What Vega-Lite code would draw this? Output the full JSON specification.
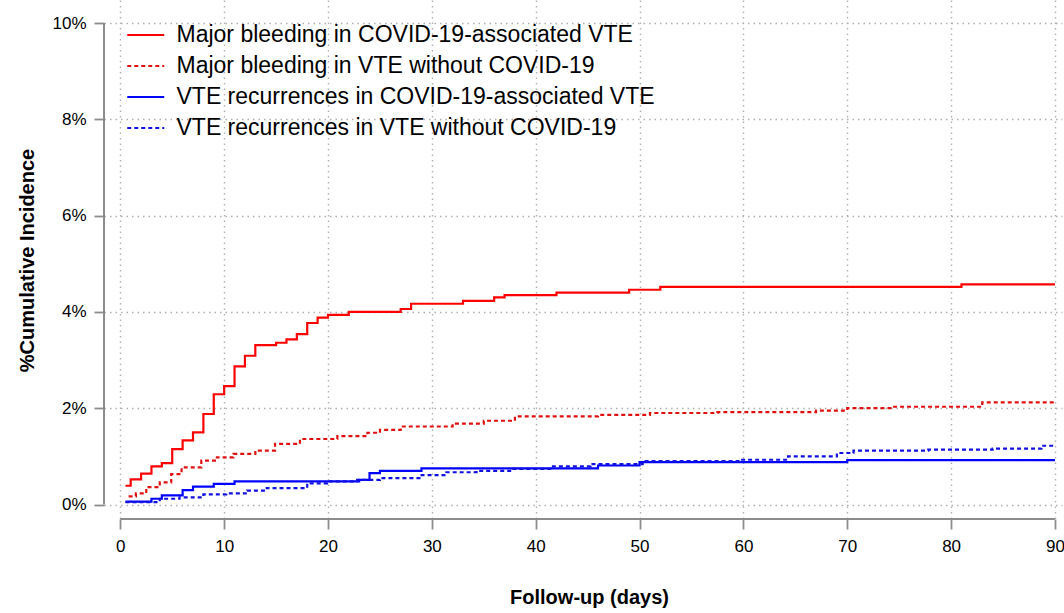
{
  "$schema": "https://vega.github.io/schema/vega-lite/v6.json",
  "autosize": {"type": "none"},
  "padding": {"left": 104, "top": 0, "right": 2, "bottom": 94},
  "width": 958,
  "height": 519,
  "background": "white",
  "config": {
    "font": "Liberation Sans",
    "view": {"stroke": null},
    "axis": {
      "domain": false,
      "grid": true,
      "gridColor": "#b0b0b0",
      "gridDash": [1.5, 4],
      "gridWidth": 1.4,
      "tickColor": "#8c8c8c",
      "tickWidth": 1.8,
      "tickSize": 10,
      "labelColor": "#000000",
      "labelFontSize": 17,
      "labelFont": "Liberation Sans",
      "titleFont": "Liberation Sans",
      "titleFontSize": 20,
      "titleFontWeight": "bold",
      "titleColor": "#000000"
    }
  },
  "datasets": {
    "curves": [
      {"series": "Major bleeding in COVID-19-associated VTE", "day": 0.5, "pct": 0.39},
      {"series": "Major bleeding in COVID-19-associated VTE", "day": 1, "pct": 0.52},
      {"series": "Major bleeding in COVID-19-associated VTE", "day": 2, "pct": 0.64},
      {"series": "Major bleeding in COVID-19-associated VTE", "day": 3, "pct": 0.79},
      {"series": "Major bleeding in COVID-19-associated VTE", "day": 4, "pct": 0.86},
      {"series": "Major bleeding in COVID-19-associated VTE", "day": 5, "pct": 1.15},
      {"series": "Major bleeding in COVID-19-associated VTE", "day": 6, "pct": 1.33},
      {"series": "Major bleeding in COVID-19-associated VTE", "day": 7, "pct": 1.5},
      {"series": "Major bleeding in COVID-19-associated VTE", "day": 8, "pct": 1.88},
      {"series": "Major bleeding in COVID-19-associated VTE", "day": 9, "pct": 2.29},
      {"series": "Major bleeding in COVID-19-associated VTE", "day": 10, "pct": 2.46},
      {"series": "Major bleeding in COVID-19-associated VTE", "day": 11, "pct": 2.87},
      {"series": "Major bleeding in COVID-19-associated VTE", "day": 12, "pct": 3.09},
      {"series": "Major bleeding in COVID-19-associated VTE", "day": 13, "pct": 3.31},
      {"series": "Major bleeding in COVID-19-associated VTE", "day": 15, "pct": 3.36},
      {"series": "Major bleeding in COVID-19-associated VTE", "day": 16, "pct": 3.43},
      {"series": "Major bleeding in COVID-19-associated VTE", "day": 17, "pct": 3.54},
      {"series": "Major bleeding in COVID-19-associated VTE", "day": 18, "pct": 3.77},
      {"series": "Major bleeding in COVID-19-associated VTE", "day": 19, "pct": 3.88},
      {"series": "Major bleeding in COVID-19-associated VTE", "day": 20, "pct": 3.94},
      {"series": "Major bleeding in COVID-19-associated VTE", "day": 22, "pct": 4.0},
      {"series": "Major bleeding in COVID-19-associated VTE", "day": 27, "pct": 4.06},
      {"series": "Major bleeding in COVID-19-associated VTE", "day": 28, "pct": 4.17},
      {"series": "Major bleeding in COVID-19-associated VTE", "day": 33, "pct": 4.23},
      {"series": "Major bleeding in COVID-19-associated VTE", "day": 36, "pct": 4.3},
      {"series": "Major bleeding in COVID-19-associated VTE", "day": 37, "pct": 4.35},
      {"series": "Major bleeding in COVID-19-associated VTE", "day": 42, "pct": 4.4},
      {"series": "Major bleeding in COVID-19-associated VTE", "day": 49, "pct": 4.46},
      {"series": "Major bleeding in COVID-19-associated VTE", "day": 52, "pct": 4.52},
      {"series": "Major bleeding in COVID-19-associated VTE", "day": 81, "pct": 4.57},
      {"series": "Major bleeding in COVID-19-associated VTE", "day": 90, "pct": 4.57},

      {"series": "Major bleeding in VTE without COVID-19", "day": 0.8, "pct": 0.17},
      {"series": "Major bleeding in VTE without COVID-19", "day": 1.5, "pct": 0.23},
      {"series": "Major bleeding in VTE without COVID-19", "day": 2.5, "pct": 0.36},
      {"series": "Major bleeding in VTE without COVID-19", "day": 3.8, "pct": 0.46},
      {"series": "Major bleeding in VTE without COVID-19", "day": 4.9, "pct": 0.63},
      {"series": "Major bleeding in VTE without COVID-19", "day": 5.9, "pct": 0.77},
      {"series": "Major bleeding in VTE without COVID-19", "day": 7.8, "pct": 0.91},
      {"series": "Major bleeding in VTE without COVID-19", "day": 9.3, "pct": 0.98},
      {"series": "Major bleeding in VTE without COVID-19", "day": 10.9, "pct": 1.05},
      {"series": "Major bleeding in VTE without COVID-19", "day": 13, "pct": 1.12},
      {"series": "Major bleeding in VTE without COVID-19", "day": 14.9, "pct": 1.26},
      {"series": "Major bleeding in VTE without COVID-19", "day": 17.3, "pct": 1.36},
      {"series": "Major bleeding in VTE without COVID-19", "day": 20.9, "pct": 1.42},
      {"series": "Major bleeding in VTE without COVID-19", "day": 23.8, "pct": 1.49},
      {"series": "Major bleeding in VTE without COVID-19", "day": 25, "pct": 1.55},
      {"series": "Major bleeding in VTE without COVID-19", "day": 27, "pct": 1.62},
      {"series": "Major bleeding in VTE without COVID-19", "day": 32, "pct": 1.68},
      {"series": "Major bleeding in VTE without COVID-19", "day": 35, "pct": 1.74},
      {"series": "Major bleeding in VTE without COVID-19", "day": 38, "pct": 1.83},
      {"series": "Major bleeding in VTE without COVID-19", "day": 46, "pct": 1.86},
      {"series": "Major bleeding in VTE without COVID-19", "day": 51, "pct": 1.9},
      {"series": "Major bleeding in VTE without COVID-19", "day": 57.5, "pct": 1.92},
      {"series": "Major bleeding in VTE without COVID-19", "day": 67, "pct": 1.95},
      {"series": "Major bleeding in VTE without COVID-19", "day": 70, "pct": 2.0},
      {"series": "Major bleeding in VTE without COVID-19", "day": 74.4, "pct": 2.03},
      {"series": "Major bleeding in VTE without COVID-19", "day": 83, "pct": 2.12},
      {"series": "Major bleeding in VTE without COVID-19", "day": 90, "pct": 2.12},

      {"series": "VTE recurrences in COVID-19-associated VTE", "day": 0.5, "pct": 0.06},
      {"series": "VTE recurrences in COVID-19-associated VTE", "day": 3, "pct": 0.12},
      {"series": "VTE recurrences in COVID-19-associated VTE", "day": 4, "pct": 0.19},
      {"series": "VTE recurrences in COVID-19-associated VTE", "day": 6, "pct": 0.3},
      {"series": "VTE recurrences in COVID-19-associated VTE", "day": 7, "pct": 0.37},
      {"series": "VTE recurrences in COVID-19-associated VTE", "day": 9, "pct": 0.43},
      {"series": "VTE recurrences in COVID-19-associated VTE", "day": 11, "pct": 0.48},
      {"series": "VTE recurrences in COVID-19-associated VTE", "day": 23, "pct": 0.51},
      {"series": "VTE recurrences in COVID-19-associated VTE", "day": 24, "pct": 0.65},
      {"series": "VTE recurrences in COVID-19-associated VTE", "day": 25, "pct": 0.7},
      {"series": "VTE recurrences in COVID-19-associated VTE", "day": 29, "pct": 0.75},
      {"series": "VTE recurrences in COVID-19-associated VTE", "day": 46, "pct": 0.81},
      {"series": "VTE recurrences in COVID-19-associated VTE", "day": 50, "pct": 0.88},
      {"series": "VTE recurrences in COVID-19-associated VTE", "day": 70, "pct": 0.92},
      {"series": "VTE recurrences in COVID-19-associated VTE", "day": 90, "pct": 0.92},

      {"series": "VTE recurrences in VTE without COVID-19", "day": 0.5, "pct": 0.05},
      {"series": "VTE recurrences in VTE without COVID-19", "day": 3.8, "pct": 0.12},
      {"series": "VTE recurrences in VTE without COVID-19", "day": 5.7, "pct": 0.15},
      {"series": "VTE recurrences in VTE without COVID-19", "day": 8, "pct": 0.21},
      {"series": "VTE recurrences in VTE without COVID-19", "day": 10.2, "pct": 0.23},
      {"series": "VTE recurrences in VTE without COVID-19", "day": 12.2, "pct": 0.29},
      {"series": "VTE recurrences in VTE without COVID-19", "day": 14.1, "pct": 0.34},
      {"series": "VTE recurrences in VTE without COVID-19", "day": 18, "pct": 0.44},
      {"series": "VTE recurrences in VTE without COVID-19", "day": 19.9, "pct": 0.48},
      {"series": "VTE recurrences in VTE without COVID-19", "day": 22.8, "pct": 0.51},
      {"series": "VTE recurrences in VTE without COVID-19", "day": 25, "pct": 0.55},
      {"series": "VTE recurrences in VTE without COVID-19", "day": 28.8, "pct": 0.61},
      {"series": "VTE recurrences in VTE without COVID-19", "day": 31.4, "pct": 0.67},
      {"series": "VTE recurrences in VTE without COVID-19", "day": 34.3, "pct": 0.7},
      {"series": "VTE recurrences in VTE without COVID-19", "day": 37.7, "pct": 0.74},
      {"series": "VTE recurrences in VTE without COVID-19", "day": 41.5, "pct": 0.79},
      {"series": "VTE recurrences in VTE without COVID-19", "day": 45.3, "pct": 0.84},
      {"series": "VTE recurrences in VTE without COVID-19", "day": 50.3, "pct": 0.9},
      {"series": "VTE recurrences in VTE without COVID-19", "day": 59.6, "pct": 0.93},
      {"series": "VTE recurrences in VTE without COVID-19", "day": 64.3, "pct": 1.0},
      {"series": "VTE recurrences in VTE without COVID-19", "day": 69, "pct": 1.07},
      {"series": "VTE recurrences in VTE without COVID-19", "day": 70.6, "pct": 1.12},
      {"series": "VTE recurrences in VTE without COVID-19", "day": 77.8, "pct": 1.14},
      {"series": "VTE recurrences in VTE without COVID-19", "day": 84, "pct": 1.16},
      {"series": "VTE recurrences in VTE without COVID-19", "day": 88.7, "pct": 1.22},
      {"series": "VTE recurrences in VTE without COVID-19", "day": 90, "pct": 1.22}
    ]
  },
  "layer": [
    {
      "data": {"name": "curves"},
      "mark": {"type": "line", "interpolate": "step-after", "strokeWidth": 2.2},
      "encoding": {
        "x": {
          "field": "day",
          "type": "quantitative",
          "scale": {"domain": [-1.57, 90.68], "nice": false, "zero": false},
          "axis": {
            "values": [0, 10, 20, 30, 40, 50, 60, 70, 80, 90],
            "title": "Follow-up (days)",
            "labelPadding": 9,
            "titleX": 485,
            "titleY": 84,
            "titleAnchor": null,
            "titleAlign": "center",
            "titleBaseline": "alphabetic"
          }
        },
        "y": {
          "field": "pct",
          "type": "quantitative",
          "scale": {"domain": [-0.301, 10.478], "nice": false, "zero": false},
          "axis": {
            "values": [0, 2, 4, 6, 8, 10],
            "labelExpr": "datum.value + '%'",
            "title": "%Cumulative Incidence",
            "labelPadding": 8,
            "titleX": -71,
            "titleY": 260,
            "titleAngle": -90,
            "titleAnchor": null,
            "titleAlign": "center",
            "titleBaseline": "alphabetic"
          }
        },
        "color": {
          "field": "series",
          "type": "nominal",
          "scale": {
            "domain": [
              "Major bleeding in COVID-19-associated VTE",
              "Major bleeding in VTE without COVID-19",
              "VTE recurrences in COVID-19-associated VTE",
              "VTE recurrences in VTE without COVID-19"
            ],
            "range": ["#ff0000", "#e01010", "#0000ff", "#1010e0"]
          },
          "legend": {
            "title": null,
            "orient": "none",
            "legendX": 30.25,
            "legendY": 23.5,
            "padding": 0,
            "symbolType": "M-2,0H2",
            "symbolSize": 342,
            "symbolStrokeWidth": 2,
            "labelFontSize": 23,
            "labelFont": "Liberation Sans",
            "labelColor": "#000000",
            "labelOffset": 19.25,
            "labelLimit": 700,
            "rowPadding": 7
          }
        },
        "strokeDash": {
          "field": "series",
          "type": "nominal",
          "scale": {
            "domain": [
              "Major bleeding in COVID-19-associated VTE",
              "Major bleeding in VTE without COVID-19",
              "VTE recurrences in COVID-19-associated VTE",
              "VTE recurrences in VTE without COVID-19"
            ],
            "range": [[1, 0], [4, 3], [1, 0], [4, 3]]
          },
          "legend": {
            "title": null,
            "orient": "none",
            "legendX": 30.25,
            "legendY": 23.5,
            "padding": 0,
            "symbolType": "M-2,0H2",
            "symbolSize": 342,
            "symbolStrokeWidth": 2,
            "labelFontSize": 23,
            "labelFont": "Liberation Sans",
            "labelColor": "#000000",
            "labelOffset": 19.25,
            "labelLimit": 700,
            "rowPadding": 7
          }
        }
      }
    },
    {
      "data": {"values": [{}]},
      "mark": {"type": "rule", "color": "#8c8c8c", "strokeWidth": 2},
      "encoding": {
        "x": {"datum": -1.57, "type": "quantitative"},
        "y": {"datum": 0, "type": "quantitative"},
        "y2": {"datum": 10}
      }
    },
    {
      "data": {"values": [{}]},
      "mark": {"type": "rule", "color": "#8c8c8c", "strokeWidth": 2},
      "encoding": {
        "y": {"datum": -0.301, "type": "quantitative"},
        "x": {"datum": 0, "type": "quantitative"},
        "x2": {"datum": 90}
      }
    }
  ]
}
